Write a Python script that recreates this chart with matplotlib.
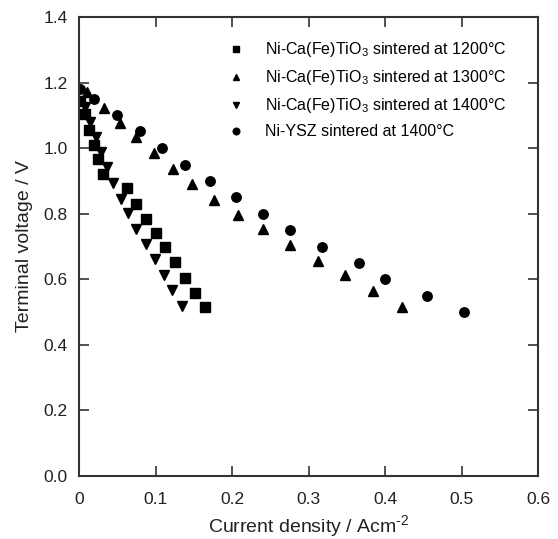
import matplotlib
matplotlib.use("Agg")
import matplotlib.pyplot as plt

plt.rcParams['font.family'] = ['Liberation Sans', 'DejaVu Sans']
plt.rcParams['mathtext.fontset'] = 'custom'
plt.rcParams['mathtext.rm'] = 'Liberation Sans'
plt.rcParams['mathtext.it'] = 'Liberation Sans:italic'
plt.rcParams['mathtext.bf'] = 'Liberation Sans:bold'

# Ni-Ca(Fe)TiO3 sintered at 1200C
i1200 = [0.001, 0.008, 0.013, 0.019, 0.025, 0.031, 0.063, 0.075, 0.087, 0.100,
         0.112, 0.126, 0.139, 0.151, 0.164]
v1200 = [1.144, 1.104, 1.055, 1.010, 0.967, 0.922, 0.878, 0.830, 0.785, 0.742,
         0.698, 0.653, 0.604, 0.559, 0.516]

# Ni-Ca(Fe)TiO3 sintered at 1300C
i1300 = [0.010, 0.032, 0.054, 0.074, 0.098, 0.123, 0.148, 0.176, 0.208, 0.240,
         0.275, 0.312, 0.347, 0.384, 0.422]
v1300 = [1.173, 1.124, 1.076, 1.034, 0.985, 0.936, 0.891, 0.843, 0.797, 0.753,
         0.706, 0.656, 0.613, 0.564, 0.514]

# Ni-Ca(Fe)TiO3 sintered at 1400C
i1400 = [0.008, 0.014, 0.022, 0.029, 0.036, 0.045, 0.055, 0.064, 0.075, 0.087,
         0.099, 0.111, 0.122, 0.135]
v1400 = [1.127, 1.081, 1.035, 0.988, 0.944, 0.893, 0.846, 0.801, 0.754, 0.708,
         0.661, 0.613, 0.568, 0.519]

# Ni-YSZ sintered at 1400C
iysz = [0.001, 0.019, 0.049, 0.079, 0.108, 0.138, 0.171, 0.205, 0.240, 0.276,
        0.317, 0.365, 0.399, 0.454, 0.503]
vysz = [1.182, 1.150, 1.101, 1.053, 1.000, 0.950, 0.901, 0.851, 0.799, 0.750,
        0.700, 0.651, 0.600, 0.549, 0.499]

labels = ['Ni-Ca(Fe)TiO$_3$ sintered at 1200°C',
          'Ni-Ca(Fe)TiO$_3$ sintered at 1300°C',
          'Ni-Ca(Fe)TiO$_3$ sintered at 1400°C',
          'Ni-YSZ sintered at 1400°C']

fig = plt.figure(figsize=(5.58, 5.39), dpi=100)
ax = fig.add_axes([0.1416, 0.1174, 0.8234, 0.8504])

ax.plot(i1200, v1200, 's', c='k', ms=6.5, label=labels[0])
ax.plot(i1300, v1300, '^', c='k', ms=6.5, label=labels[1])
ax.plot(i1400, v1400, 'v', c='k', ms=6.5, label=labels[2])
ax.plot(iysz, vysz, 'o', c='k', ms=6.8, label=labels[3])

ax.set_xlim(0, 0.6)
ax.set_ylim(0, 1.4)
ax.set_xticks([0, 0.1, 0.2, 0.3, 0.4, 0.5, 0.6])
ax.set_xticklabels(['0', '0.1', '0.2', '0.3', '0.4', '0.5', '0.6'])
ax.set_yticks([0, 0.2, 0.4, 0.6, 0.8, 1.0, 1.2, 1.4])
ax.set_yticklabels(['0.0', '0.2', '0.4', '0.6', '0.8', '1.0', '1.2', '1.4'])
ax.tick_params(direction='in', top=True, right=True, length=7, width=1.2,
               color='#333333', labelsize=12.5, labelcolor='#222222')
ax.tick_params(axis='y', pad=8)
ax.tick_params(axis='x', pad=12)
for s in ax.spines.values():
    s.set_linewidth(1.5)
    s.set_color('#333333')

ax.set_xlabel('Current density / Acm$^{\\text{-2}}$', fontsize=14, color='#222222', labelpad=4)
ax.set_ylabel('Terminal voltage / V', fontsize=14, color='#222222', labelpad=8)

ax.legend(loc='upper left', bbox_to_anchor=(0.308, 0.95), frameon=False,
          fontsize=11.5, markerscale=0.7, handlelength=2.0, handletextpad=0.77,
          labelspacing=0.56, borderaxespad=0, borderpad=0)

fig.savefig('out.png', dpi=100)
